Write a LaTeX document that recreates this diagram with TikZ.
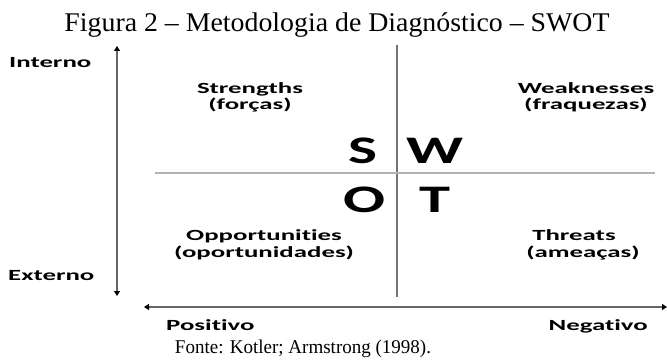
\documentclass[tikz,border=0pt]{standalone}
\usepackage{fontspec}
\setmainfont{Liberation Serif}
\newfontfamily\calib[Ligatures=NoCommon]{Carlito}
\usetikzlibrary{arrows.meta}
\newcommand\fitw[2]{\resizebox{#1pt}{\height}{#2}}
\newcommand\lblfont{\calib\bfseries\fontsize{15.5}{18}\selectfont}
\newsavebox\measbox
\newdimen\measw
\begin{document}
\sbox\measbox{\lblfont Strengths}%
\measw=\wd\measbox
\pgfmathsetmacro\hsx{106/\measw}%
\newcommand\hs[1]{\scalebox{\hsx}[1]{#1}}%
\begin{tikzpicture}[x=1pt,y=-1pt,
  lbl/.style={font=\lblfont, inner sep=0pt, anchor=base},
  big/.style={font=\calib\bfseries\fontsize{39}{44}\selectfont, inner sep=0pt, anchor=base},
  ttl/.style={font=\fontsize{27}{30}\selectfont, inner sep=0pt, anchor=base},
  src/.style={font=\fontsize{19.5}{22}\selectfont, inner sep=0pt, anchor=base},
  tip/.tip={Triangle[width=6pt,length=5pt,color=black]},
  axis/.style={draw=black!60, line width=1.2pt, -tip},
  daxis/.style={draw=black!60, line width=1.2pt, tip-tip},
  divv/.style={draw=black!55, line width=1.2pt},
  divh/.style={draw=black!30, line width=1.2pt}]
\useasboundingbox (0,0) rectangle (667,361);
% title and source
\node[ttl] (title) at (337,32) {\fitw{545}{Figura 2 – Metodologia de Diagnóstico – SWOT}};
\node[src] (fonte) at (303,353) {\fitw{256}{Fonte: Kotler; Armstrong (1998).}};
% vertical axis
\coordinate (vtop) at (117,46);
\coordinate (vbot) at (117,296);
\coordinate (vmid) at (117,170);
\draw[axis] (vmid) -- (vtop);
\draw[axis] (vmid) -- (vbot);
\node[lbl, anchor=base west] (interno) at (9,67) {\hs{Interno}};
\node[lbl, anchor=base west] (externo) at (8,280) {\hs{Externo}};
% horizontal axis
\coordinate (hl) at (144,307);
\coordinate (hr) at (667,307);
\draw[daxis] (hl) -- (hr);
\node[lbl, anchor=base west] (pos) at (166,330) {\hs{Positivo}};
\node[lbl, anchor=base east] (neg) at (648,330) {\hs{Negativo}};
% dividers
\coordinate (ct) at (397,45);
\coordinate (cb) at (397,297);
\coordinate (ml) at (155,173);
\coordinate (mr) at (655,173);
\draw[divv] (ct) -- (cb);
\draw[divh] (ml) -- (mr);
% letters
\node[big, anchor=base east] (S) at (378,163) {\fitw{29}{S}};
\node[big, anchor=base west] (W) at (406,163) {\fitw{57}{W}};
\node[big, anchor=base east] (O) at (386,212) {\fitw{42}{O}};
\node[big, anchor=base west] (T) at (419,212) {\fitw{31}{T}};
% quadrant labels
\node[lbl] (str) at (250,93) {\hs{Strengths}};
\node[lbl] (strp) at (250,110) {\hs{(forças)}};
\node[lbl] (wea) at (586,93) {\hs{Weaknesses}};
\node[lbl] (weap) at (586,110) {\hs{(fraquezas)}};
\node[lbl] (opp) at (264,240) {\hs{Opportunities}};
\node[lbl] (oppp) at (264,257) {\hs{(oportunidades)}};
\node[lbl] (thr) at (574,240) {\hs{Threats}};
\node[lbl] (thrp) at (583,257) {\hs{(ameaças)}};
\end{tikzpicture}
\end{document}
